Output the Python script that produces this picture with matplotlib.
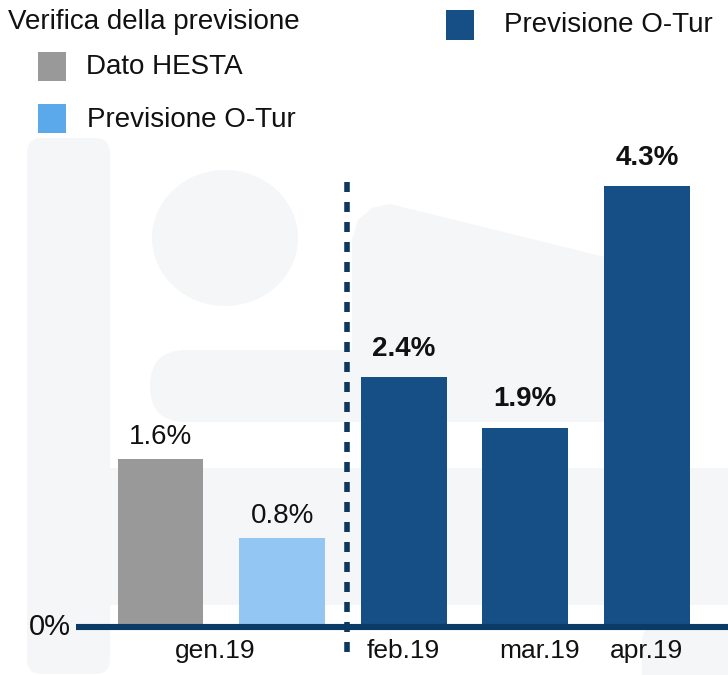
import matplotlib
matplotlib.use("Agg")
import matplotlib.pyplot as plt
from matplotlib.patches import FancyBboxPatch, Ellipse, Polygon, Rectangle

plt.rcParams['font.family'] = ['Liberation Sans', 'DejaVu Sans']

# ---- data ----
categories = ["gen.19", "feb.19", "mar.19", "apr.19"]
series_names = ["Dato HESTA", "Previsione O-Tur", "Previsione O-Tur"]
values = [1.6, 0.85, 2.38, 1.9, 4.2]          # bar heights
value_labels = ["1.6%", "0.8%", "2.4%", "1.9%", "4.3%"]
bar_series = [0, 1, 2, 2, 2]
title = "Verifica della previsione"
zero_label = "0%"

colors = ["#999999", "#93C6F3", "#154F85"]
legend_colors = ["#999999", "#5BA8EA", "#154F85"]
wm = "#F5F6F8"

W, H = 728, 675
fig = plt.figure(figsize=(W / 100, H / 100), dpi=100)

# background / decoration axes in pixel coordinates
bg = fig.add_axes([0, 0, 1, 1])
bg.set_xlim(0, W)
bg.set_ylim(H, 0)
bg.axis("off")

bg.add_patch(FancyBboxPatch((27 + 15, 138 + 15), 83 - 30, 506, boxstyle="round,pad=15",
                            fc=wm, ec="none"))
bg.add_patch(Ellipse((225, 238), 146, 136, fc=wm, ec="none"))
bg.add_patch(FancyBboxPatch((150 + 36, 350 + 36), 250, 0.1, boxstyle="round,pad=36",
                            fc=wm, ec="none"))
bg.add_patch(Polygon([(352, 422), (352, 240), (358, 220), (372, 208), (390, 204),
                      (690, 278), (690, 422)], closed=True, fc=wm, ec="none"))
bg.add_patch(Rectangle((105, 468), W - 105, 137, fc=wm, ec="none"))
bg.add_patch(FancyBboxPatch((642 + 14, 627 + 14), 200, 100, boxstyle="round,pad=14",
                            fc=wm, ec="none"))

# legend / title texts
fs = 20
bg.text(8, 22, title, fontsize=fs, va="center", ha="left", color="#111111")
bg.add_patch(Rectangle((38, 52), 28, 29, fc=legend_colors[0], ec="none"))
bg.text(86, 67, series_names[0], fontsize=fs, va="center", ha="left", color="#111111")
bg.add_patch(Rectangle((38, 104), 28, 29, fc=legend_colors[1], ec="none"))
bg.text(87, 120, series_names[1], fontsize=fs, va="center", ha="left", color="#111111")
bg.add_patch(Rectangle((446, 10), 28, 30, fc=legend_colors[2], ec="none"))
bg.text(504, 25, series_names[2], fontsize=fs, va="center", ha="left", color="#111111")

# data axes
ax = fig.add_axes([0, 0, 1, 1])
ax.patch.set_alpha(0)
step = 121.6
x0 = 160.5
ax.set_xlim(-x0 / step, (W - x0) / step)
ppu = 105.0
base = 48.0
ax.set_ylim(-base / ppu, (H - base) / ppu)
ax.axis("off")

xs = list(range(len(values)))
for i, v in enumerate(values):
    ax.bar(xs[i], v, width=0.707, color=colors[bar_series[i]], zorder=2)
    bold = bar_series[i] == 2
    ax.annotate(value_labels[i], (xs[i], v), xytext=(0, 22 if not bold else 28),
                textcoords="offset pixels", ha="center", va="center",
                fontsize=fs, fontweight="bold" if bold else "normal", color="#111111")

# baseline
ax.plot([(76 - x0) / step, (W - x0) / step], [0, 0], color="#0A3A66", lw=4.4,
        solid_capstyle="butt", zorder=3)
ax.text((71 - x0) / step, 0, zero_label, ha="right", va="center", fontsize=fs + 1,
        color="#111111")

# dashed separator
xsep = (347 - x0) / step
ax.plot([xsep, xsep], [(H - base - 652) / ppu, (H - base - 180) / ppu],
        color="#0D3960", lw=4.0, linestyle=(0, (1.8, 1.8)), zorder=3)

# category labels
cat_pos = [0.45, 2.0, 3.12, 4.0]
for p, c in zip(cat_pos, categories):
    ax.text(p, -24 / ppu, c, ha="center", va="center", fontsize=19, color="#111111")

fig.savefig("out.png", dpi=100)
